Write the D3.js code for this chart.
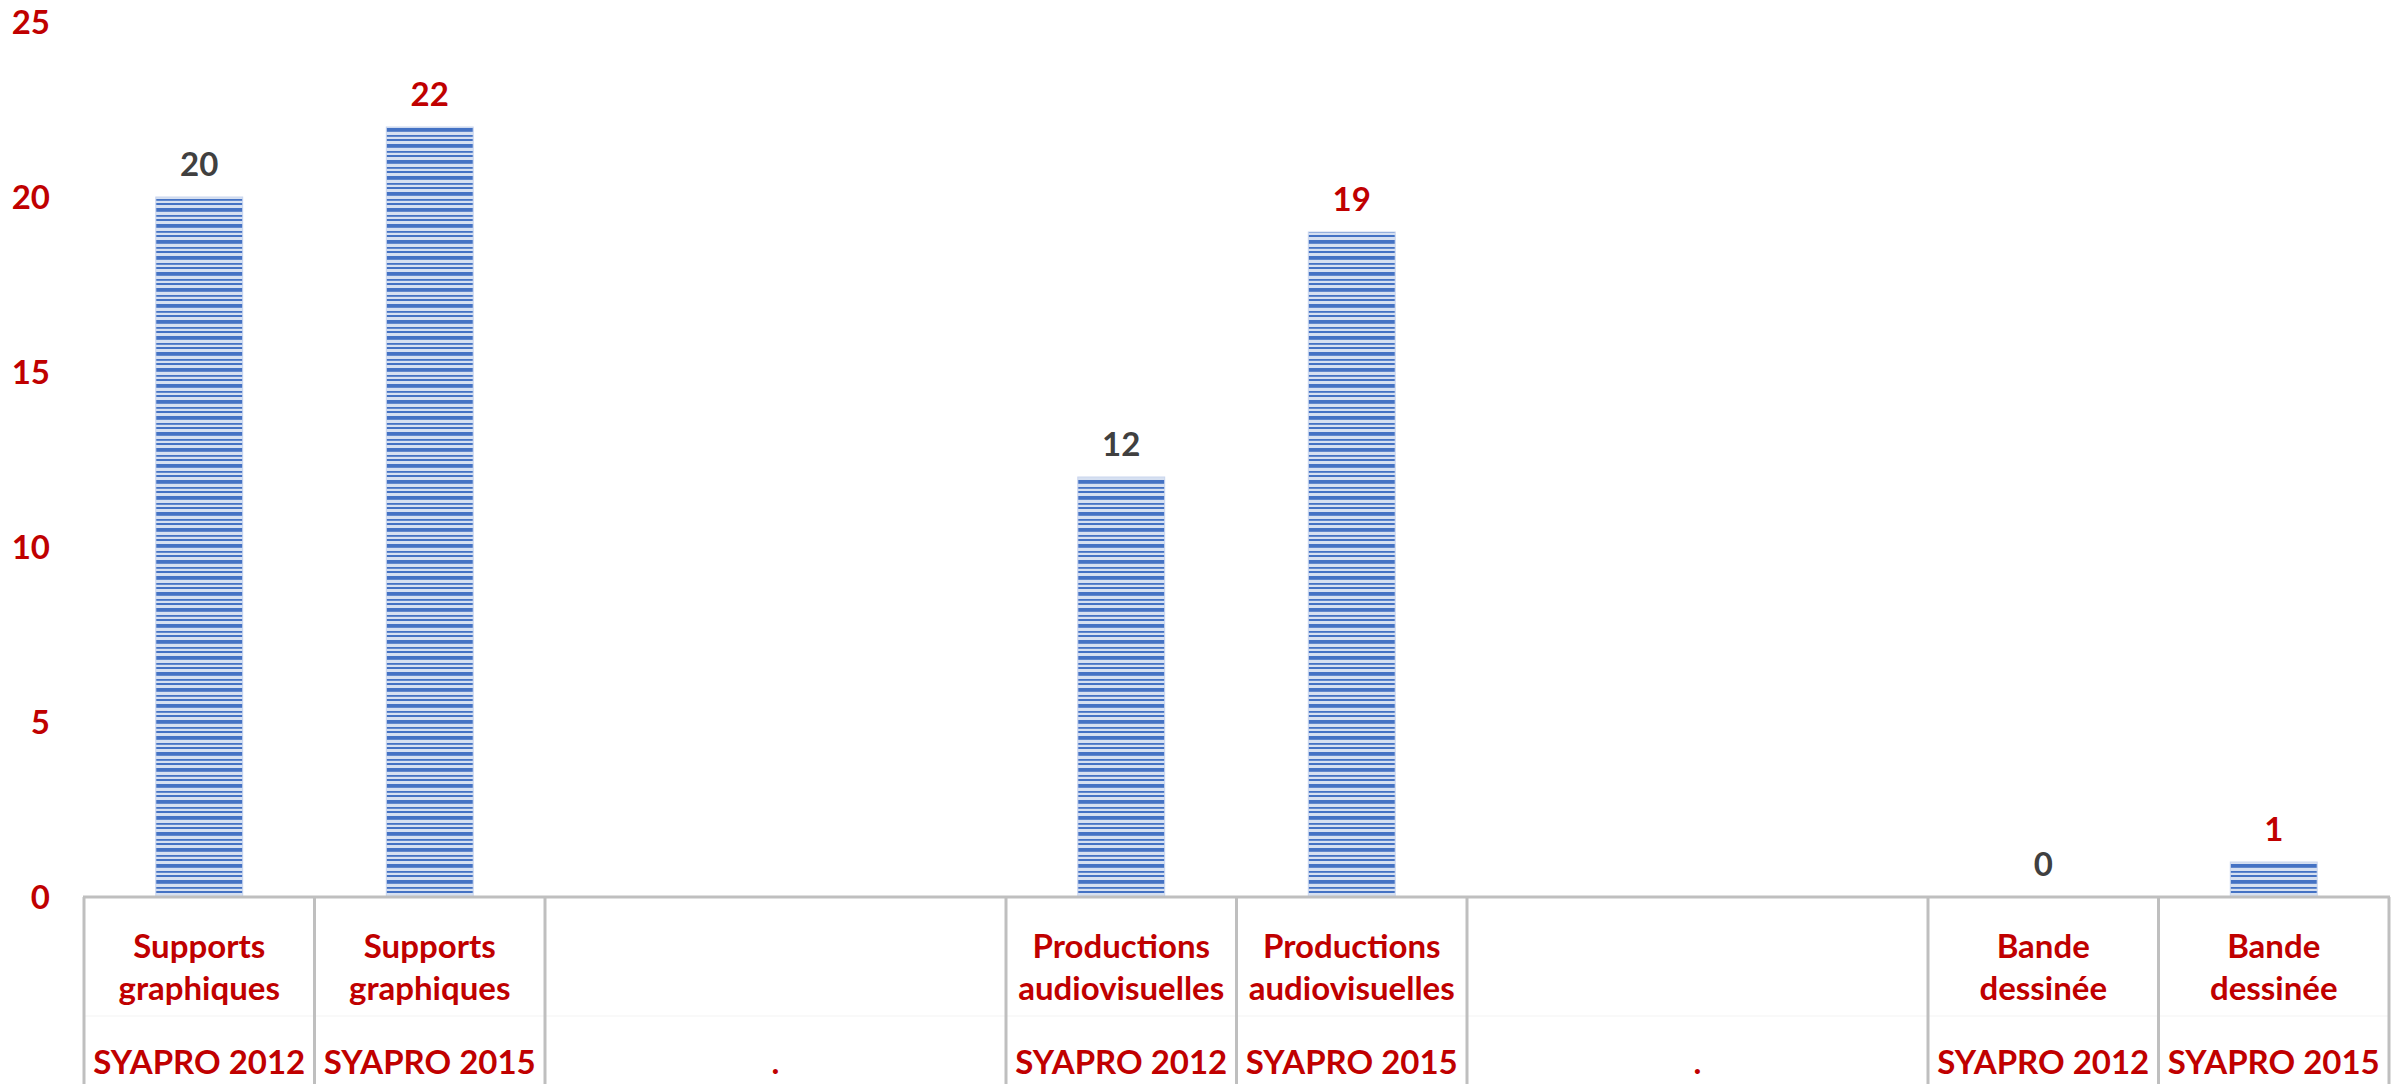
<!DOCTYPE html>
<html>
<head>
<meta charset="utf-8">
<script src="https://cdn.jsdelivr.net/npm/d3@7"></script>
<style>
  html, body { margin: 0; padding: 0; background: #ffffff; }
  svg { display: block; }
  text { font-family: Lato, "Open Sans", "Liberation Sans", sans-serif; font-weight: 700; }
</style>
</head>
<body>
<svg id="chart" width="2407" height="1084"></svg>
<script>
// ---- data ----
const slots = ["s0", "s1", "s2", "s3", "s4", "s5", "s6", "s7", "s8", "s9"];
const values = [20, 22, null, null, 12, 19, null, null, 0, 1];
const innerLabels = [
  ["Supports", "graphiques"], ["Supports", "graphiques"], [], [],
  ["Productions", "audiovisuelles"], ["Productions", "audiovisuelles"], [], [],
  ["Bande", "dessinée"], ["Bande", "dessinée"]
];
const editions = ["SYAPRO 2012", "SYAPRO 2015", ".", "SYAPRO 2012", "SYAPRO 2015", ".", "SYAPRO 2012", "SYAPRO 2015"];
const editionSpans = [1, 1, 2, 1, 1, 2, 1, 1];
const yTicks = [0, 5, 10, 15, 20, 25];

// ---- layout ----
const svg = d3.select("#chart");
const W = 2407, H = 1084;
const left = 84, right = 2389, axisY = 897, topY = 22;
const red = "#c00000", grey = "#404040", lineGrey = "#bfbfbf";
const fs = 33;

const x = d3.scaleBand().domain(slots).range([left, right]).paddingInner(0).paddingOuter(0);
const y = d3.scaleLinear().domain([0, 25]).range([axisY, topY]);
const barW = x.bandwidth() * 0.377;

// stripe pattern
const defs = svg.append("defs");
const pat = defs.append("pattern").attr("id", "stripes")
  .attr("patternUnits", "userSpaceOnUse").attr("width", 20).attr("height", 16);
pat.append("rect").attr("width", 20).attr("height", 16).attr("fill", "#d6e0f1");
pat.append("rect").attr("y", 0).attr("width", 20).attr("height", 3.8).attr("fill", "#4472c4");
pat.append("rect").attr("y", 7).attr("width", 20).attr("height", 1.8).attr("fill", "#4472c4");
pat.append("rect").attr("y", 11).attr("width", 20).attr("height", 2.0).attr("fill", "#4472c4");

// y tick labels
svg.append("g").selectAll("text").data(yTicks).join("text")
  .attr("x", 50).attr("y", d => y(d)).attr("dy", "0.36em")
  .attr("text-anchor", "end").attr("font-size", fs).attr("fill", red)
  .text(d => d);

// bars
const barData = slots.map((s, i) => ({ s, v: values[i], i })).filter(d => d.v !== null);
svg.append("g").selectAll("rect").data(barData.filter(d => d.v > 0)).join("rect")
  .attr("x", d => x(d.s) + (x.bandwidth() - barW) / 2)
  .attr("y", d => y(d.v))
  .attr("width", barW)
  .attr("height", d => y(0) - y(d.v))
  .attr("fill", "url(#stripes)")
  .attr("stroke", "#c9d5ee").attr("stroke-width", 1);

// value labels
svg.append("g").selectAll("text").data(barData).join("text")
  .attr("x", d => x(d.s) + x.bandwidth() / 2)
  .attr("y", d => y(d.v) - 21)
  .attr("text-anchor", "middle").attr("font-size", fs)
  .attr("fill", d => (d.i % 2 === 0 ? grey : red))
  .text(d => d.v);

// faint row divider
svg.append("line").attr("x1", left).attr("x2", right).attr("y1", 1016).attr("y2", 1016)
  .attr("stroke", "#f7f7f7").attr("stroke-width", 1.5);

// category axis line
svg.append("line").attr("x1", left - 1).attr("x2", right + 1).attr("y1", axisY).attr("y2", axisY)
  .attr("stroke", lineGrey).attr("stroke-width", 3);

// group boundaries
let acc = 0;
const bounds = [0];
editionSpans.forEach(s => { acc += s; bounds.push(acc); });
const boundX = k => (k < slots.length ? x(slots[k]) : right);
svg.append("g").selectAll("line").data(bounds).join("line")
  .attr("x1", d => boundX(d)).attr("x2", d => boundX(d))
  .attr("y1", axisY).attr("y2", H)
  .attr("stroke", lineGrey).attr("stroke-width", 3);

// inner category labels
const inner = svg.append("g");
innerLabels.forEach((lines, i) => {
  lines.forEach((t, j) => {
    inner.append("text")
      .attr("x", x(slots[i]) + x.bandwidth() / 2)
      .attr("y", 958 + j * 42)
      .attr("text-anchor", "middle").attr("font-size", fs).attr("fill", red)
      .text(t);
  });
});

// outer edition labels
svg.append("g").selectAll("text").data(editions.map((e, k) => ({ e, k }))).join("text")
  .attr("x", d => (boundX(bounds[d.k]) + boundX(bounds[d.k + 1])) / 2)
  .attr("y", 1074)
  .attr("text-anchor", "middle").attr("font-size", fs).attr("fill", red)
  .text(d => d.e);
</script>
</body>
</html>
